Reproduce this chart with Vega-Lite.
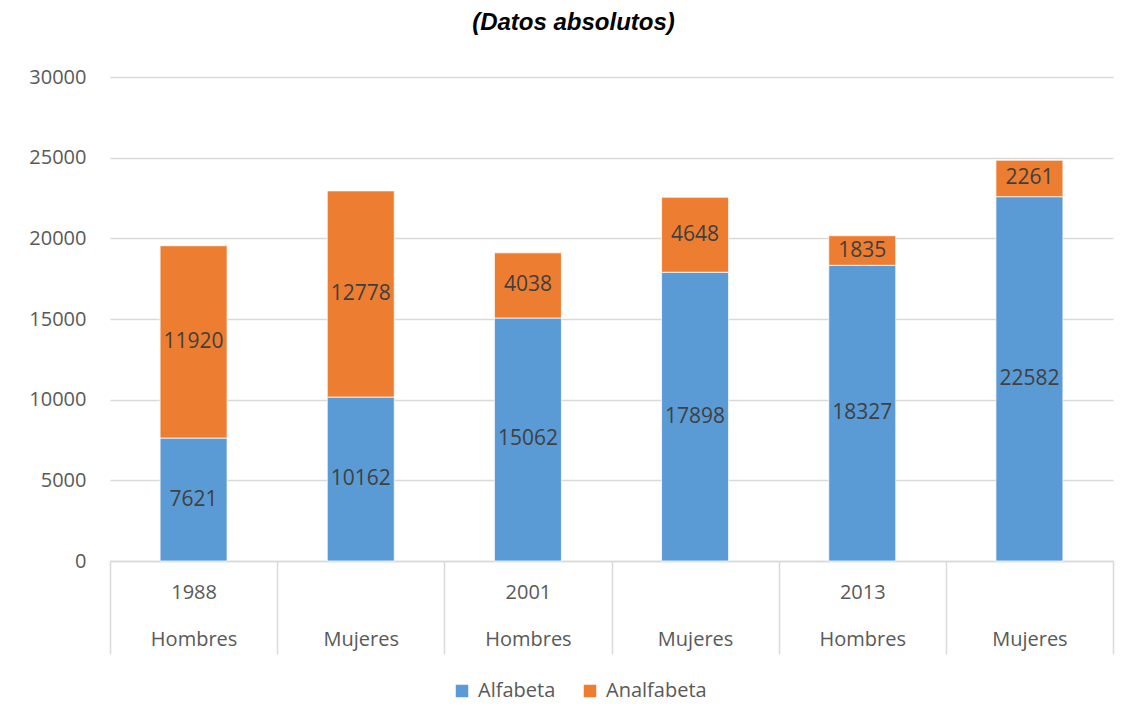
{
  "$schema": "https://vega.github.io/schema/vega-lite/v6.json",
  "width": 1003,
  "height": 484,
  "autosize": "none",
  "padding": {"left": 110, "top": 77, "right": 22, "bottom": 162},
  "background": "#ffffff",
  "title": {
    "text": "(Datos absolutos)",
    "font": "Liberation Sans",
    "fontSize": 24,
    "fontWeight": "bold",
    "fontStyle": "italic",
    "color": "#000000",
    "anchor": "middle",
    "dx": -38,
    "offset": 32
  },
  "data": {
    "values": [
      {"cat": "1988 Hombres", "tipo": "Alfabeta", "valor": 7621},
      {"cat": "1988 Hombres", "tipo": "Analfabeta", "valor": 11920},
      {"cat": "1988 Mujeres", "tipo": "Alfabeta", "valor": 10162},
      {"cat": "1988 Mujeres", "tipo": "Analfabeta", "valor": 12778},
      {"cat": "2001 Hombres", "tipo": "Alfabeta", "valor": 15062},
      {"cat": "2001 Hombres", "tipo": "Analfabeta", "valor": 4038},
      {"cat": "2001 Mujeres", "tipo": "Alfabeta", "valor": 17898},
      {"cat": "2001 Mujeres", "tipo": "Analfabeta", "valor": 4648},
      {"cat": "2013 Hombres", "tipo": "Alfabeta", "valor": 18327},
      {"cat": "2013 Hombres", "tipo": "Analfabeta", "valor": 1835},
      {"cat": "2013 Mujeres", "tipo": "Alfabeta", "valor": 22582},
      {"cat": "2013 Mujeres", "tipo": "Analfabeta", "valor": 2261}
    ]
  },
  "transform": [
    {"stack": "valor", "groupby": ["cat"], "sort": [{"field": "tipo", "order": "ascending"}], "as": ["v0", "v1"]},
    {"calculate": "(datum.v0 + datum.v1) / 2", "as": "vmid"}
  ],
  "encoding": {
    "x": {
      "field": "cat",
      "type": "nominal",
      "sort": ["1988 Hombres", "1988 Mujeres", "2001 Hombres", "2001 Mujeres", "2013 Hombres", "2013 Mujeres"],
      "scale": {"paddingInner": 0, "paddingOuter": 0},
      "axis": {
        "title": null,
        "labelAngle": 0,
        "labelExpr": "isString(datum.value) ? (indexof(datum.value, 'Mujeres') >= 0 ? ['', 'Mujeres'] : split(datum.value, ' ')) : ''",
        "labelFont": "Open Sans",
        "labelFontSize": 20,
        "labelColor": "#595959",
        "labelBaseline": "top",
        "labelLineHeight": 47,
        "labelPadding": -72,
        "labelOverlap": false,
        "tickBand": "extent",
        "tickSize": 93,
        "tickColor": "#d9d9d9",
        "tickWidth": 1.5,
        "domainColor": "#d9d9d9",
        "domainWidth": 1.5,
        "grid": false
      }
    }
  },
  "layer": [
    {
      "mark": {"type": "bar", "stroke": "#ffffff", "strokeWidth": 0.75, "size": 67},
      "encoding": {
        "y": {
          "field": "v0",
          "type": "quantitative",
          "scale": {"domain": [0, 30000], "nice": false},
          "axis": {
            "title": null,
            "values": [0, 5000, 10000, 15000, 20000, 25000, 30000],
            "format": "d",
            "domain": false,
            "ticks": false,
            "labelPadding": 24,
            "labelFont": "Open Sans",
            "labelFontSize": 20,
            "labelColor": "#595959",
            "gridColor": "#d9d9d9",
            "gridWidth": 1.5
          }
        },
        "y2": {"field": "v1"},
        "color": {
          "field": "tipo",
          "type": "nominal",
          "scale": {"domain": ["Alfabeta", "Analfabeta"], "range": ["#5B9BD5", "#ED7D31"]},
          "legend": {
            "title": null,
            "orient": "none",
            "legendX": 342,
            "legendY": 604,
            "direction": "horizontal",
            "symbolType": "square",
            "symbolSize": 196,
            "labelFont": "Open Sans",
            "labelFontSize": 20,
            "labelColor": "#595959",
            "labelOffset": 6,
            "columnPadding": 24
          }
        }
      }
    },
    {
      "mark": {"type": "text", "font": "Open Sans", "fontSize": 21, "color": "#404040", "align": "center", "baseline": "middle"},
      "encoding": {
        "y": {"field": "vmid", "type": "quantitative"},
        "text": {"field": "valor", "type": "quantitative", "format": "d"}
      }
    }
  ],
  "config": {
    "view": {"stroke": null}
  }
}
